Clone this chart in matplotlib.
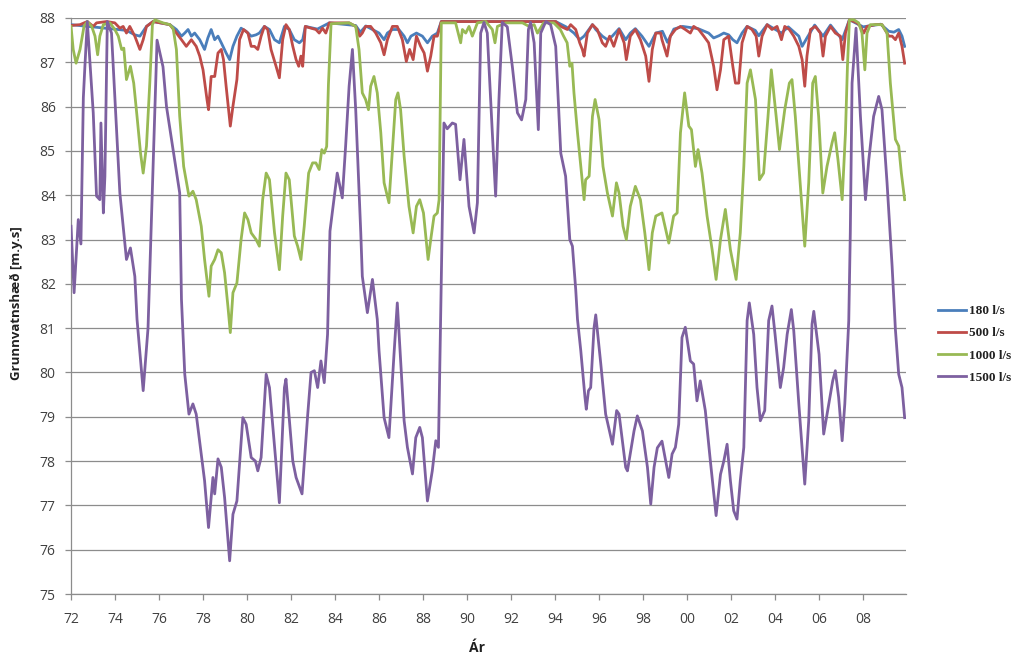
import matplotlib
matplotlib.use("Agg")
import matplotlib.pyplot as plt
from matplotlib.ticker import FixedLocator

# Groundwater level (m.y.s) per pumping rate as (year, level)
flow_labels = ["180 l/s", "500 l/s", "1000 l/s", "1500 l/s"]
colors = ["#4A7EBB", "#BE4B48", "#98B954", "#7D60A0"]

pts_180 = [
    (1972.0, 87.85), (1974.52, 87.72), (1974.9, 87.62), (1975.13, 87.59), (1975.43, 87.81),
    (1975.73, 87.92), (1976.49, 87.85), (1976.79, 87.74), (1977.02, 87.59), (1977.17, 87.66),
    (1977.32, 87.74), (1977.47, 87.59), (1977.62, 87.66), (1977.85, 87.51), (1978.07, 87.29),
    (1978.22, 87.55), (1978.37, 87.74), (1978.53, 87.51), (1978.68, 87.59), (1978.83, 87.44),
    (1979.05, 87.21), (1979.21, 87.06), (1979.36, 87.36), (1979.54, 87.59), (1979.73, 87.77),
    (1979.96, 87.7), (1980.19, 87.59), (1980.41, 87.62), (1980.56, 87.66), (1980.79, 87.81),
    (1981.02, 87.74), (1981.25, 87.51), (1981.47, 87.44), (1981.7, 87.81), (1981.92, 87.74),
    (1982.15, 87.51), (1982.38, 87.44), (1982.53, 87.51), (1982.65, 87.81), (1983.2, 87.75),
    (1983.74, 87.89), (1984.94, 87.83), (1985.15, 87.68), (1985.4, 87.82), (1985.85, 87.7),
    (1986.0, 87.66), (1986.23, 87.51), (1986.38, 87.66), (1986.61, 87.74), (1986.9, 87.74),
    (1987.14, 87.59), (1987.29, 87.44), (1987.45, 87.59), (1987.7, 87.66), (1987.97, 87.59),
    (1988.2, 87.44), (1988.42, 87.59), (1988.65, 87.66), (1988.83, 87.92), (1994.03, 87.92),
    (1994.5, 87.8), (1994.86, 87.66), (1995.12, 87.51), (1995.32, 87.59), (1995.7, 87.85),
    (1995.85, 87.74), (1996.15, 87.59), (1996.38, 87.51), (1996.6, 87.59), (1996.91, 87.76),
    (1997.21, 87.51), (1997.42, 87.66), (1997.65, 87.76), (1997.95, 87.59), (1998.27, 87.36),
    (1998.58, 87.66), (1998.88, 87.7), (1999.11, 87.45), (1999.4, 87.75), (1999.8, 87.81),
    (2000.5, 87.76), (2000.98, 87.66), (2001.21, 87.55), (2001.45, 87.6), (2001.67, 87.66),
    (2001.89, 87.62), (2002.08, 87.51), (2002.27, 87.44), (2002.5, 87.66), (2002.73, 87.81),
    (2003.1, 87.72), (2003.26, 87.6), (2003.64, 87.85), (2004.29, 87.66), (2004.6, 87.8),
    (2005.08, 87.59), (2005.23, 87.36), (2005.45, 87.55), (2005.8, 87.84), (2006.18, 87.59),
    (2006.52, 87.84), (2007.05, 87.51), (2007.38, 87.96), (2008.0, 87.8), (2008.8, 87.86),
    (2009.17, 87.7), (2009.4, 87.68), (2009.62, 87.74), (2009.77, 87.59), (2009.89, 87.36),
]

pts_500 = [
    (1972.0, 87.83), (1972.41, 87.85), (1972.74, 87.92), (1973.01, 87.81), (1973.16, 87.89),
    (1973.62, 87.92), (1973.99, 87.89), (1974.22, 87.77), (1974.37, 87.81), (1974.52, 87.66),
    (1974.67, 87.81), (1974.9, 87.59), (1975.13, 87.29), (1975.28, 87.51), (1975.43, 87.81),
    (1975.73, 87.92), (1976.49, 87.85), (1976.79, 87.66), (1977.02, 87.51), (1977.24, 87.36),
    (1977.47, 87.51), (1977.69, 87.36), (1977.85, 87.14), (1978.0, 86.83), (1978.18, 86.16),
    (1978.25, 85.93), (1978.37, 86.68), (1978.53, 86.68), (1978.68, 87.21), (1978.83, 87.29),
    (1978.93, 87.06), (1979.05, 86.46), (1979.24, 85.56), (1979.36, 86.01), (1979.54, 86.61),
    (1979.66, 87.51), (1979.84, 87.74), (1980.04, 87.66), (1980.19, 87.36), (1980.34, 87.36),
    (1980.49, 87.29), (1980.64, 87.59), (1980.79, 87.81), (1980.94, 87.74), (1981.09, 87.29),
    (1981.32, 86.91), (1981.47, 86.65), (1981.62, 87.51), (1981.77, 87.85), (1981.92, 87.74),
    (1982.08, 87.36), (1982.23, 87.06), (1982.35, 86.91), (1982.45, 87.14), (1982.53, 86.91),
    (1982.65, 87.81), (1982.91, 87.77), (1983.13, 87.74), (1983.28, 87.66), (1983.43, 87.77),
    (1983.58, 87.66), (1983.74, 87.89), (1984.64, 87.89), (1984.94, 87.81), (1985.12, 87.59),
    (1985.24, 87.66), (1985.39, 87.81), (1985.62, 87.81), (1985.85, 87.66), (1986.08, 87.44),
    (1986.23, 87.17), (1986.38, 87.51), (1986.61, 87.81), (1986.83, 87.81), (1987.06, 87.51),
    (1987.24, 87.02), (1987.39, 87.29), (1987.55, 87.06), (1987.7, 87.59), (1987.89, 87.36),
    (1988.05, 87.21), (1988.2, 86.8), (1988.35, 87.14), (1988.5, 87.59), (1988.65, 87.59),
    (1988.83, 87.92), (1994.03, 87.92), (1994.26, 87.81), (1994.56, 87.74), (1994.71, 87.85),
    (1994.94, 87.74), (1995.12, 87.44), (1995.24, 87.29), (1995.32, 87.14), (1995.47, 87.66),
    (1995.7, 87.85), (1995.92, 87.74), (1996.15, 87.44), (1996.3, 87.36), (1996.48, 87.59),
    (1996.67, 87.36), (1996.91, 87.74), (1997.14, 87.44), (1997.24, 87.06), (1997.42, 87.59),
    (1997.65, 87.74), (1997.88, 87.51), (1998.12, 87.14), (1998.27, 86.57), (1998.42, 87.29),
    (1998.58, 87.66), (1998.8, 87.66), (1998.86, 87.51), (1999.09, 87.14), (1999.24, 87.59),
    (1999.47, 87.74), (1999.7, 87.81), (1999.92, 87.74), (2000.15, 87.66), (2000.3, 87.81),
    (2000.53, 87.74), (2000.76, 87.59), (2000.98, 87.44), (2001.21, 86.91), (2001.36, 86.38),
    (2001.52, 86.83), (2001.67, 87.51), (2001.89, 87.59), (2002.08, 86.91), (2002.2, 86.53),
    (2002.35, 86.53), (2002.5, 87.44), (2002.73, 87.81), (2002.95, 87.74), (2003.14, 87.59),
    (2003.26, 87.14), (2003.41, 87.59), (2003.64, 87.85), (2003.86, 87.74), (2004.09, 87.81),
    (2004.29, 87.51), (2004.44, 87.81), (2004.65, 87.74), (2004.85, 87.59), (2005.08, 87.36),
    (2005.23, 87.06), (2005.35, 86.46), (2005.45, 87.14), (2005.61, 87.74), (2005.83, 87.81),
    (2006.06, 87.66), (2006.18, 87.14), (2006.29, 87.59), (2006.52, 87.81), (2006.74, 87.66),
    (2006.97, 87.59), (2007.08, 87.06), (2007.2, 87.66), (2007.38, 87.96), (2007.73, 87.89),
    (2007.88, 87.81), (2008.03, 87.66), (2008.18, 87.81), (2008.56, 87.85), (2008.86, 87.85),
    (2009.17, 87.59), (2009.32, 87.59), (2009.47, 87.51), (2009.62, 87.66), (2009.77, 87.36),
    (2009.89, 86.98),
]

pts_1000 = [
    (1972.0, 87.81), (1972.1, 87.29), (1972.23, 86.98), (1972.41, 87.29), (1972.59, 87.81),
    (1972.74, 87.92), (1972.94, 87.81), (1973.09, 87.59), (1973.21, 87.17), (1973.31, 87.59),
    (1973.47, 87.85), (1973.77, 87.89), (1973.99, 87.74), (1974.15, 87.59), (1974.3, 87.29),
    (1974.4, 87.32), (1974.52, 86.61), (1974.7, 86.91), (1974.85, 86.53), (1975.0, 85.78),
    (1975.16, 84.95), (1975.28, 84.5), (1975.43, 85.11), (1975.58, 86.53), (1975.7, 87.85),
    (1975.81, 87.96), (1976.18, 87.89), (1976.49, 87.85), (1976.64, 87.77), (1976.79, 87.29),
    (1976.94, 85.78), (1977.12, 84.65), (1977.36, 83.98), (1977.54, 84.09), (1977.69, 83.9),
    (1977.92, 83.3), (1978.07, 82.55), (1978.27, 81.72), (1978.37, 82.4), (1978.53, 82.55),
    (1978.68, 82.77), (1978.83, 82.7), (1978.98, 82.25), (1979.13, 81.5), (1979.24, 80.9),
    (1979.36, 81.8), (1979.54, 82.02), (1979.73, 83.0), (1979.89, 83.6), (1980.04, 83.45),
    (1980.19, 83.15), (1980.41, 83.0), (1980.56, 82.85), (1980.71, 83.9), (1980.87, 84.5),
    (1981.02, 84.35), (1981.25, 83.15), (1981.47, 82.32), (1981.62, 83.53), (1981.77, 84.5),
    (1981.92, 84.35), (1982.15, 83.08), (1982.3, 82.85), (1982.45, 82.55), (1982.6, 83.3),
    (1982.8, 84.5), (1982.98, 84.73), (1983.13, 84.73), (1983.28, 84.58), (1983.4, 85.03),
    (1983.51, 84.95), (1983.62, 85.1), (1983.7, 86.5), (1983.82, 87.87), (1984.64, 87.89),
    (1984.94, 87.81), (1985.09, 87.29), (1985.24, 86.31), (1985.39, 86.16), (1985.52, 85.93),
    (1985.62, 86.46), (1985.77, 86.68), (1985.92, 86.31), (1986.08, 85.41), (1986.23, 84.28),
    (1986.45, 83.83), (1986.61, 85.03), (1986.76, 86.16), (1986.86, 86.31), (1986.98, 85.93),
    (1987.14, 84.88), (1987.36, 83.75), (1987.55, 83.15), (1987.7, 83.75), (1987.85, 83.9),
    (1988.02, 83.6), (1988.23, 82.55), (1988.35, 83.0), (1988.5, 83.53), (1988.65, 83.6),
    (1988.73, 83.9), (1988.83, 87.89), (1989.48, 87.89), (1989.71, 87.44), (1989.79, 87.74),
    (1989.94, 87.66), (1990.09, 87.81), (1990.24, 87.59), (1990.47, 87.89), (1990.85, 87.92),
    (1991.15, 87.74), (1991.27, 87.44), (1991.38, 87.81), (1991.76, 87.89), (1992.52, 87.89),
    (1992.82, 87.81), (1993.05, 87.85), (1993.2, 87.66), (1993.48, 87.89), (1993.94, 87.89),
    (1994.24, 87.74), (1994.39, 87.59), (1994.55, 87.44), (1994.67, 86.91), (1994.77, 86.98),
    (1994.86, 86.31), (1995.02, 85.41), (1995.17, 84.65), (1995.32, 83.9), (1995.39, 84.35),
    (1995.55, 84.43), (1995.7, 85.78), (1995.82, 86.16), (1996.0, 85.71), (1996.18, 84.65),
    (1996.38, 84.05), (1996.61, 83.53), (1996.79, 84.28), (1996.91, 84.05), (1997.09, 83.3),
    (1997.24, 83.0), (1997.42, 83.75), (1997.65, 84.2), (1997.88, 83.9), (1998.08, 83.15),
    (1998.27, 82.32), (1998.42, 83.15), (1998.58, 83.53), (1998.86, 83.6), (1999.17, 82.92),
    (1999.39, 83.53), (1999.55, 83.6), (1999.7, 85.41), (1999.89, 86.31), (2000.08, 85.56),
    (2000.2, 85.48), (2000.38, 84.65), (2000.5, 85.03), (2000.68, 84.5), (2000.91, 83.53),
    (2001.14, 82.77), (2001.32, 82.1), (2001.52, 83.0), (2001.74, 83.68), (2001.97, 82.77),
    (2002.23, 82.1), (2002.42, 83.15), (2002.58, 84.65), (2002.73, 86.53), (2002.88, 86.83),
    (2003.11, 86.16), (2003.29, 84.35), (2003.48, 84.5), (2003.68, 85.78), (2003.83, 86.83),
    (2004.05, 85.78), (2004.2, 85.03), (2004.44, 85.93), (2004.65, 86.53), (2004.77, 86.61),
    (2004.92, 85.78), (2005.15, 84.2), (2005.35, 82.85), (2005.53, 84.28), (2005.71, 86.53),
    (2005.83, 86.68), (2005.98, 85.78), (2006.17, 84.05), (2006.36, 84.65), (2006.59, 85.18),
    (2006.71, 85.41), (2006.86, 84.8), (2007.05, 83.9), (2007.2, 85.41), (2007.29, 86.91),
    (2007.38, 87.96), (2007.58, 87.96), (2007.8, 87.89), (2007.95, 87.66), (2008.08, 86.83),
    (2008.18, 87.66), (2008.33, 87.85), (2008.86, 87.85), (2009.09, 87.66), (2009.24, 86.53),
    (2009.47, 85.26), (2009.62, 85.11), (2009.74, 84.5), (2009.89, 83.9),
]

pts_1500 = [
    (1972.0, 83.3), (1972.14, 81.8), (1972.33, 83.45), (1972.45, 82.9), (1972.56, 86.2),
    (1972.63, 86.9), (1972.74, 87.92), (1973.01, 85.86), (1973.16, 83.98), (1973.31, 83.9),
    (1973.36, 85.63), (1973.47, 83.6), (1973.54, 84.43), (1973.65, 87.92), (1973.84, 87.66),
    (1974.22, 84.05), (1974.52, 82.55), (1974.7, 82.81), (1974.9, 82.17), (1975.0, 81.2),
    (1975.28, 79.59), (1975.5, 81.0), (1975.91, 87.5), (1976.18, 86.9), (1976.34, 86.0),
    (1976.94, 84.05), (1977.02, 81.65), (1977.17, 79.96), (1977.36, 79.06), (1977.54, 79.29),
    (1977.69, 79.06), (1977.92, 78.16), (1978.07, 77.56), (1978.25, 76.5), (1978.45, 77.63),
    (1978.53, 77.26), (1978.68, 78.05), (1978.83, 77.86), (1978.98, 77.18), (1979.21, 75.75),
    (1979.36, 76.8), (1979.54, 77.1), (1979.81, 78.98), (1979.96, 78.83), (1980.19, 78.08),
    (1980.38, 78.0), (1980.49, 77.78), (1980.64, 78.08), (1980.87, 79.96), (1981.02, 79.66),
    (1981.47, 77.06), (1981.7, 79.66), (1981.77, 79.85), (1982.08, 78.0), (1982.23, 77.63),
    (1982.5, 77.26), (1982.76, 79.06), (1982.91, 80.0), (1983.06, 80.04), (1983.21, 79.66),
    (1983.36, 80.26), (1983.51, 79.77), (1983.66, 80.86), (1983.77, 83.19), (1983.92, 83.79),
    (1984.1, 84.5), (1984.33, 83.94), (1984.48, 85.1), (1984.64, 86.46), (1984.79, 87.29),
    (1984.94, 85.93), (1985.17, 83.15), (1985.24, 82.17), (1985.47, 81.35), (1985.7, 82.1),
    (1985.92, 81.2), (1986.0, 80.49), (1986.23, 78.98), (1986.45, 78.53), (1986.68, 80.41),
    (1986.83, 81.57), (1987.14, 78.91), (1987.29, 78.31), (1987.52, 77.71), (1987.67, 78.53),
    (1987.85, 78.76), (1987.97, 78.53), (1988.2, 77.1), (1988.42, 77.78), (1988.58, 78.46),
    (1988.7, 78.31), (1988.8, 81.2), (1988.95, 85.63), (1989.1, 85.5), (1989.33, 85.63),
    (1989.48, 85.6), (1989.68, 84.35), (1989.86, 85.26), (1990.09, 83.75), (1990.32, 83.15),
    (1990.47, 83.83), (1990.62, 87.66), (1990.77, 87.9), (1990.92, 87.66), (1991.15, 85.4),
    (1991.3, 83.98), (1991.45, 86.16), (1991.6, 87.9), (1991.83, 87.8), (1992.06, 86.9),
    (1992.29, 85.86), (1992.48, 85.7), (1992.67, 86.16), (1992.79, 87.74), (1992.89, 87.9),
    (1993.05, 87.44), (1993.24, 85.48), (1993.35, 87.66), (1993.58, 87.92), (1993.8, 87.85),
    (1994.03, 87.36), (1994.26, 84.95), (1994.48, 84.43), (1994.67, 83.0), (1994.79, 82.85),
    (1994.94, 81.87), (1995.02, 81.2), (1995.17, 80.49), (1995.36, 79.44), (1995.42, 79.17),
    (1995.52, 79.59), (1995.62, 79.66), (1995.77, 81.0), (1995.85, 81.3), (1996.08, 80.19),
    (1996.3, 79.06), (1996.61, 78.38), (1996.8, 79.14), (1996.91, 79.06), (1997.21, 77.86),
    (1997.29, 77.78), (1997.59, 78.68), (1997.74, 79.02), (1997.97, 78.68), (1998.2, 77.86),
    (1998.35, 77.03), (1998.5, 77.86), (1998.65, 78.3), (1998.86, 78.45), (1999.17, 77.63),
    (1999.32, 78.16), (1999.47, 78.31), (1999.62, 78.83), (1999.77, 80.79), (1999.92, 81.02),
    (2000.15, 80.26), (2000.3, 80.19), (2000.45, 79.36), (2000.6, 79.81), (2000.83, 79.14),
    (2001.06, 78.0), (2001.32, 76.77), (2001.52, 77.7), (2001.67, 78.0), (2001.82, 78.38),
    (2001.97, 77.56), (2002.12, 76.88), (2002.27, 76.69), (2002.42, 77.56), (2002.58, 78.31),
    (2002.73, 81.17), (2002.83, 81.57), (2003.03, 80.86), (2003.18, 79.66), (2003.33, 78.91),
    (2003.53, 79.14), (2003.71, 81.17), (2003.86, 81.5), (2004.0, 80.86), (2004.24, 79.66),
    (2004.39, 80.11), (2004.55, 80.86), (2004.74, 81.42), (2004.85, 80.94), (2005.08, 79.29),
    (2005.35, 77.48), (2005.53, 78.91), (2005.68, 81.09), (2005.76, 81.38), (2006.0, 80.41),
    (2006.21, 78.61), (2006.44, 79.29), (2006.62, 79.81), (2006.74, 80.04), (2006.89, 79.44),
    (2007.05, 78.46), (2007.17, 79.29), (2007.35, 81.17), (2007.42, 83.15), (2007.5, 86.53),
    (2007.68, 87.77), (2007.88, 85.78), (2008.11, 83.9), (2008.26, 84.8), (2008.48, 85.78),
    (2008.71, 86.23), (2008.86, 85.93), (2009.09, 84.28), (2009.32, 82.4), (2009.47, 80.97),
    (2009.62, 79.96), (2009.77, 79.66), (2009.89, 78.98),
]

series = [pts_180, pts_500, pts_1000, pts_1500]
year_ticks = list(range(1972, 2009, 2))
level_ticks = list(range(75, 89))

fig = plt.figure(figsize=(10.16, 6.59), dpi=100)
ax = fig.add_axes([0.0699, 0.0986, 0.8218, 0.8741])

for pts, lab, col in zip(series, flow_labels, colors):
    xs = [p[0] for p in pts]
    ys = [p[1] for p in pts]
    ax.plot(xs, ys, color=col, lw=2.0, label=lab, solid_joinstyle='round', zorder=3)

ax.set_xlim(1972, 2009.95)
ax.set_ylim(75, 88)
ax.xaxis.set_major_locator(FixedLocator(year_ticks))
ax.set_xticklabels([f"{y % 100:02d}" for y in year_ticks])
ax.yaxis.set_major_locator(FixedLocator(level_ticks))
ax.set_yticklabels([str(v) for v in level_ticks])

ax.grid(axis='y', color='#8c8c8c', lw=0.9, zorder=0)
ax.grid(axis='x', visible=False)
for side in ['top', 'right']:
    ax.spines[side].set_visible(False)
for side in ['left', 'bottom']:
    ax.spines[side].set_color('#8c8c8c')
    ax.spines[side].set_linewidth(0.9)

ax.tick_params(axis='both', colors='#8c8c8c', labelcolor='#404040', length=4, width=0.9,
               direction='out')
ax.tick_params(axis='x', pad=9)
ax.tick_params(axis='y', pad=7)
for lbl in ax.get_xticklabels() + ax.get_yticklabels():
    lbl.set_fontfamily('Open Sans')
    lbl.set_fontsize(10)

fig.text(0.016, 0.54, 'Grunnvatnshæð [m.y.s]', rotation=90, ha='center', va='center',
         family='Open Sans', fontweight='bold', fontsize=9.5, color='#202020')
fig.text(0.469, 0.017, 'Ár', ha='center', va='center', family='Open Sans',
         fontweight='bold', fontsize=10, color='#202020')

leg = fig.legend(loc='upper left', bbox_to_anchor=(0.912, 0.555), frameon=False,
                 handlelength=2.1, handletextpad=0.2, labelspacing=0.75,
                 prop=dict(family='Liberation Serif', weight='bold', size=9.5))
for t in leg.get_texts():
    t.set_color('#202020')

fig.savefig('out.png', dpi=100)
